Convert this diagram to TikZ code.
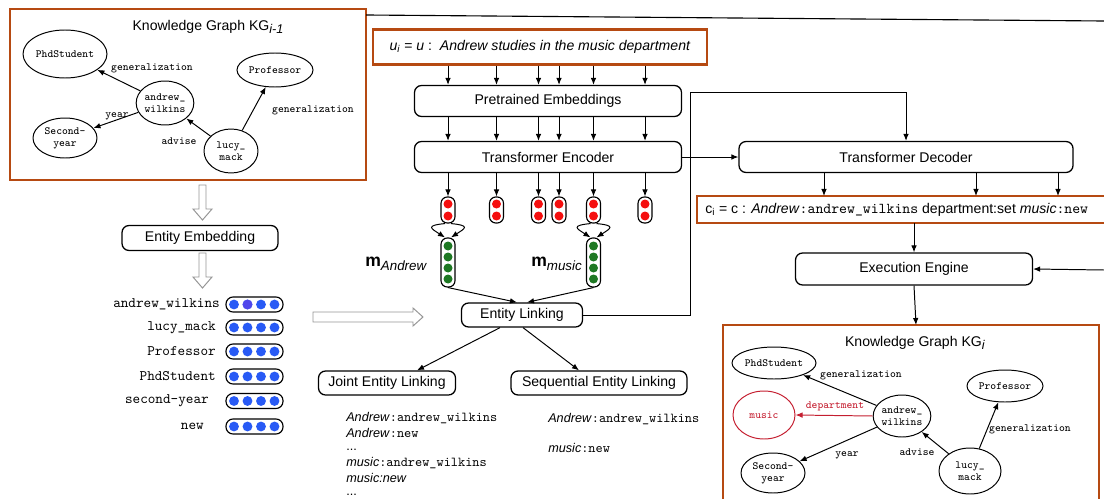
\documentclass[tikz,border=0pt]{standalone}
\usepackage{fontspec}
\setmainfont{Liberation Sans}
\setsansfont{Liberation Sans}
\usetikzlibrary{shapes.geometric,arrows.meta,calc}
\definecolor{kgorange}{RGB}{182,74,18}
\definecolor{redmus}{RGB}{196,30,48}
\definecolor{dotblue}{RGB}{40,90,245}
\definecolor{dotpurple}{RGB}{80,70,235}
\definecolor{dotred}{RGB}{245,15,15}
\definecolor{dotgreen}{RGB}{30,120,35}
\definecolor{hollowgray}{RGB}{150,150,150}
\newcommand{\pxu}{0.025cm}
\newcommand{\mtt}[1]{{\fontsize{9.7}{11}\ttfamily #1}}
\newcommand{\ctt}[1]{{\fontsize{10.7}{12}\ttfamily #1}}
\newcommand{\kgsub}[1]{\raisebox{-2.5pt}{\fontsize{9}{10}\selectfont\textit{#1}}}
\begin{document}
\begin{tikzpicture}[x=0.025cm,y=-0.025cm,
  arr/.style={line width=0.7pt,-{Latex[length=5pt,width=4pt]}},
  rbox/.style={draw,line width=0.9pt,rounded corners=5pt,inner sep=0pt,font=\fontsize{10}{12}\selectfont},
  obox/.style={draw=kgorange,line width=1.6pt,inner sep=0pt},
  kgnode/.style={ellipse,draw,line width=0.7pt,inner sep=0pt,align=center,font=\fontsize{7.8}{8.6}\ttfamily},
  kglab/.style={inner sep=0pt,font=\fontsize{7.8}{9}\ttfamily},
  pill/.style={draw,line width=0.8pt,rounded corners=4.5pt,inner sep=0pt,fill=white},
  epill/.style={draw,line width=0.8pt,rounded corners=5pt,inner sep=0pt,minimum width=57*\pxu,minimum height=15*\pxu},
  elab/.style={inner sep=0pt,anchor=east,font=\fontsize{10.3}{12}\ttfamily},
  hollow/.style={draw=hollowgray,line width=0.7pt,fill=white},
  txt/.style={inner sep=0pt,anchor=west,font=\fontsize{9}{11}\selectfont}
]
\useasboundingbox (0,0) rectangle (1104,499);

% ---------------- Left knowledge graph ----------------
\node[obox,minimum width=356*\pxu,minimum height=171*\pxu] (kg1) at (188,94.5) {};
\node[inner sep=0pt,font=\fontsize{10}{12}\selectfont] (kg1t) at (208,27) {Knowledge Graph KG\kgsub{i-1}};
\node[kgnode,minimum width=84*\pxu,minimum height=48*\pxu] (aps) at (65,54) {PhdStudent};
\node[kgnode,minimum width=76*\pxu,minimum height=34*\pxu] (apr) at (275,70) {Professor};
\node[kgnode,minimum width=54*\pxu,minimum height=44*\pxu] (aaw) at (165,103) {andrew\_\\wilkins};
\node[kgnode,minimum width=64*\pxu,minimum height=40*\pxu] (asy) at (65,138) {Second-\\year};
\node[kgnode,minimum width=54*\pxu,minimum height=44*\pxu] (alm) at (231,151) {lucy\_\\mack};
\draw[arr] (aaw) -- (aps);
\draw[arr] (aaw) -- (asy);
\draw[arr] (alm) -- (aaw);
\draw[arr] (alm) -- (apr);
\node[kglab] (al1) at (152,68) {generalization};
\node[kglab] (al2) at (117,116) {year};
\node[kglab] (al3) at (179,141) {advise};
\node[kglab] (al4) at (313,110) {generalization};

% top feedback line
\coordinate (tl1) at (366,15);
\coordinate (tl2) at (1104,21);
\draw[line width=0.8pt] (tl1) -- (tl2);

% ---------------- Entity embedding column ----------------
\node[rbox,minimum width=156*\pxu,minimum height=25*\pxu] (ee1) at (200,238) {Entity Embedding};
\draw[hollow] (199,185) -- (206,185) -- (206,209) -- (212,209) -- (202.5,220) -- (193,209) -- (199,209) -- cycle;
\draw[hollow] (199,253) -- (206,253) -- (206,277) -- (212,277) -- (202.5,288) -- (193,277) -- (199,277) -- cycle;

\newcommand{\embrow}[4]{%
  \node[elab] (#1l) at (#3,#2) {#4};
  \node[epill] (#1p) at (254.5,#2) {};
  \fill[dotblue] (234,#2) circle (3.5pt);
  \fill[dotblue] (247.5,#2) circle (3.5pt);
  \fill[dotblue] (261,#2) circle (3.5pt);
  \fill[dotblue] (274.5,#2) circle (3.5pt);}
\embrow{eaw}{304.5}{220}{andrew\_wilkins}
\embrow{elm}{327.5}{216}{lucy\_mack}
\embrow{epr}{351.5}{216}{Professor}
\embrow{eps}{376.5}{216}{PhdStudent}
\embrow{esy}{401}{209}{second-year}
\embrow{enw}{426.5}{204}{new}
\fill[dotpurple] (247.5,304.5) circle (3.5pt);

\draw[hollow] (313,312) -- (413,312) -- (413,308) -- (423,317) -- (413,326) -- (413,322) -- (313,322) -- cycle;

% ---------------- Encoder ----------------
\node[obox,minimum width=334*\pxu,minimum height=35*\pxu,font=\fontsize{10}{12}\selectfont] (inp) at (540,47)
  {\textit{u}\textsubscript{\textit{i}} = \textit{u} :\ \ \textit{Andrew studies in the music department}};
\node[rbox,minimum width=267*\pxu,minimum height=31*\pxu] (pe) at (548,101) {Pretrained Embeddings};
\node[rbox,minimum width=267*\pxu,minimum height=31*\pxu] (te) at (548,157) {Transformer Encoder};

\newcommand{\redpill}[2]{%
  \node[pill,minimum width=14*\pxu,minimum height=26*\pxu] (#1) at (#2,210) {};
  \fill[dotred] (#2,204) circle (3.2pt);
  \fill[dotred] (#2,216) circle (3.2pt);}
\redpill{r1}{448}
\redpill{r2}{496.5}
\redpill{r3}{538.5}
\redpill{r4}{559}
\redpill{r5}{593.5}
\redpill{r6}{645}
\foreach \r in {r1,r2,r3,r4,r5,r6}{
  \draw[arr] (inp.south -| \r) -- (pe.north -| \r);
  \draw[arr] (pe.south -| \r) -- (te.north -| \r);
  \draw[arr] (te.south -| \r) -- (\r.north);
}

\newcommand{\greenpill}[2]{%
  \node[pill,minimum width=14*\pxu,minimum height=49*\pxu] (#1) at (#2,262.5) {};
  \fill[dotgreen] (#2,246) circle (3.2pt);
  \fill[dotgreen] (#2,257) circle (3.2pt);
  \fill[dotgreen] (#2,268) circle (3.2pt);
  \fill[dotgreen] (#2,279) circle (3.2pt);}
\greenpill{g1}{448}
\greenpill{g2}{593.5}
\draw[arr] ($(r1.south)+(-3,0)$) .. controls +(-20,2) and +(-14,-9) .. ($(g1.north)+(-3,0)$);
\draw[arr] ($(r1.south)+(3,0)$) .. controls +(20,2) and +(14,-9) .. ($(g1.north)+(3,0)$);
\draw[arr] ($(r5.south)+(-3,0)$) .. controls +(-20,2) and +(-14,-9) .. ($(g2.north)+(-3,0)$);
\draw[arr] ($(r5.south)+(3,0)$) .. controls +(20,2) and +(14,-9) .. ($(g2.north)+(3,0)$);

\node[inner sep=0pt,anchor=west] (mA) at (365,264)
  {{\fontsize{12.5}{14}\selectfont\textbf{m}}\raisebox{-3pt}{\fontsize{9.5}{11}\selectfont\textit{Andrew}}};
\node[inner sep=0pt,anchor=west] (mM) at (531,264)
  {{\fontsize{12.5}{14}\selectfont\textbf{m}}\raisebox{-3pt}{\fontsize{9.5}{11}\selectfont\textit{music}}};

\node[rbox,minimum width=121*\pxu,minimum height=24*\pxu] (el) at (522,315) {Entity Linking};
\draw[arr] (g1.south) -- ($(el.north)+(-5,0)$);
\draw[arr] (g2.south) -- ($(el.north)+(5,0)$);

\node[rbox,minimum width=137*\pxu,minimum height=24*\pxu] (jel) at (387,383) {Joint Entity Linking};
\node[rbox,minimum width=176*\pxu,minimum height=24*\pxu] (sel) at (599,383) {Sequential Entity Linking};
\draw[arr] ($(el.south)+(-22,0)$) -- ($(jel.north)+(30,0)$);
\draw[arr] ($(el.south)+(1,0)$) -- ($(sel.north)+(-20,0)$);

\node[txt] (j1) at (346,418) {\textit{Andrew}\mtt{:andrew\_wilkins}};
\node[txt] (j2) at (346,433) {\textit{Andrew}\mtt{:new}};
\node[txt] (j3) at (346,450) {...};
\node[txt] (j4) at (346,463) {\textit{music}\mtt{:andrew\_wilkins}};
\node[txt] (j5) at (346,478) {\textit{music:new}};
\node[txt] (j6) at (346,495) {...};
\node[txt] (s1) at (548,419) {\textit{Andrew}\mtt{:andrew\_wilkins}};
\node[txt] (s2) at (548,448) {\textit{music}\mtt{:new}};

% ---------------- Decoder side ----------------
\node[rbox,minimum width=334*\pxu,minimum height=31*\pxu] (td) at (906,157) {Transformer Decoder};
\draw[arr] (te.east) -- (td.west);
\coordinate (fb) at (690,92);
\draw[arr] (el.east) -| (fb) -| (td.north);

\node[inner sep=0pt,anchor=west,minimum height=27*\pxu,font=\fontsize{10}{12}\selectfont] (cb) at (705,209.5)
  {c\textsubscript{i} = c : \textit{Andrew}\ctt{:andrew\_wilkins} department:set \textit{music}\ctt{:new}};
\draw[draw=kgorange,line width=1.6pt] (1104,196) -- (697,196) -- (697,223) -- (1104,223);
\coordinate (d1) at (824,196);
\coordinate (d2) at (976,196);
\coordinate (d3) at (1058,196);
\draw[arr] (td.south -| d1) -- (d1);
\draw[arr] (td.south -| d2) -- (d2);
\draw[arr] (td.south -| d3) -- (d3);

\node[rbox,minimum width=237*\pxu,minimum height=32*\pxu] (ex) at (914,269) {Execution Engine};
\coordinate (cbb) at (914,223);
\draw[arr] (cbb) -- (ex.north);
\coordinate (rin) at (1104,270);
\draw[arr] (rin) -- (ex.east);

% ---------------- Right knowledge graph ----------------
\draw[draw=kgorange,line width=1.6pt] (723,500) -- (723,325) -- (1099,325) -- (1099,500);
\coordinate (kg2t) at (916,325);
\draw[arr] (ex.south) -- (kg2t);
\node[inner sep=0pt,font=\fontsize{10}{12}\selectfont] (kg2title) at (915,343) {Knowledge Graph KG\kgsub{i}};
\node[kgnode,minimum width=84*\pxu,minimum height=32*\pxu] (bps) at (774,363) {PhdStudent};
\node[kgnode,draw=redmus,text=redmus,minimum width=62*\pxu,minimum height=48*\pxu] (bmu) at (764,415) {music};
\node[kgnode,minimum width=54*\pxu,minimum height=42*\pxu] (baw) at (902,416) {andrew\_\\wilkins};
\node[kgnode,minimum width=76*\pxu,minimum height=32*\pxu] (bpr) at (1005,386) {Professor};
\node[kgnode,minimum width=64*\pxu,minimum height=40*\pxu] (bsy) at (773,473) {Second-\\year};
\node[kgnode,minimum width=62*\pxu,minimum height=46*\pxu] (blm) at (970,471) {lucy\_\\mack};
\draw[arr] (baw) -- (bps);
\draw[arr,draw=redmus,-{Latex[length=5pt,width=4pt,fill=redmus]}] (baw.west) -- (bmu.east);
\draw[arr] (baw) -- (bsy);
\draw[arr] (blm) -- (baw);
\draw[arr] (blm) -- (bpr);
\node[kglab] (bl1) at (861,375) {generalization};
\node[kglab,text=redmus] (bl2) at (835,406) {department};
\node[kglab] (bl3) at (847,455) {year};
\node[kglab] (bl4) at (917,452) {advise};
\node[kglab] (bl5) at (1030,429) {generalization};
\end{tikzpicture}
\end{document}
